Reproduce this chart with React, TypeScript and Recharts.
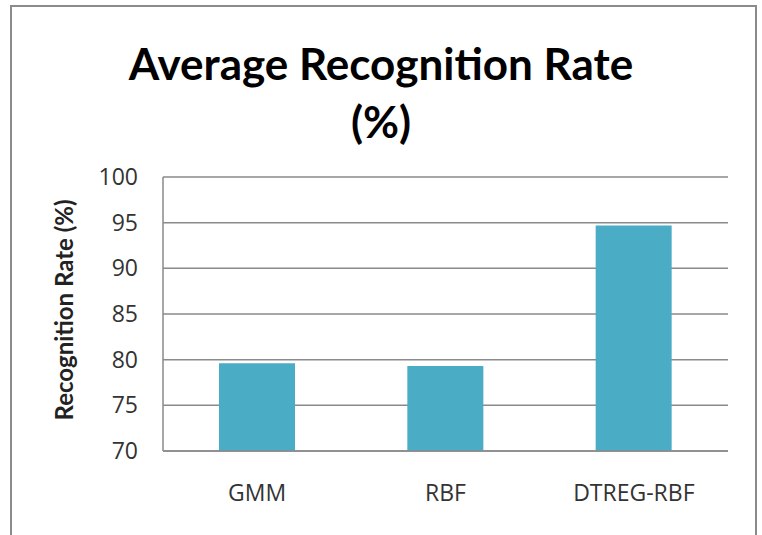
import { Bar, BarChart, CartesianGrid, XAxis, YAxis } from 'recharts';

const methods = ['GMM', 'RBF', 'DTREG-RBF'];
const rates = [79.6, 79.3, 94.7];
const yTicks = [70, 75, 80, 85, 90, 95, 100];

const data = methods.map((name, i) => ({ name, rate: rates[i] }));

const gridColor = '#8a8a8a';
const tickStyle = { fontSize: 23, fill: '#333', fontFamily: 'Open Sans' };

const App = () => {
  return (
    <div style={{ position: 'relative', width: 762, height: 535, overflow: 'hidden', fontFamily: 'Open Sans' }}>
      <style>{'body{margin:0}'}</style>
      <div
        style={{
          position: 'absolute',
          left: 10,
          top: 5,
          width: 747,
          height: 600,
          border: '2px solid #8b8b8b',
          boxSizing: 'border-box',
        }}
      />
      <div
        style={{
          position: 'absolute',
          left: 0,
          width: 762,
          top: 34,
          textAlign: 'center',
          fontFamily: 'Lato',
          fontWeight: 'bold',
          fontSize: 44,
          lineHeight: '58px',
          color: '#000',
        }}
      >
        Average Recognition Rate
        <br />
        (%)
      </div>
      <div
        style={{
          position: 'absolute',
          left: 63,
          top: 310,
          transform: 'translate(-50%, -50%) rotate(-90deg)',
          whiteSpace: 'nowrap',
          fontFamily: 'Lato',
          fontWeight: 'bold',
          fontSize: 24,
          color: '#222',
        }}
      >
        Recognition Rate (%)
      </div>
      <BarChart
        width={762}
        height={535}
        data={data}
        margin={{ top: 177, right: 34, bottom: 54, left: 103 }}
        style={{ position: 'absolute', left: 0, top: 0 }}
      >
        <CartesianGrid vertical={false} stroke={gridColor} strokeWidth={1.5} />
        <XAxis
          dataKey="name"
          height={30}
          tickLine={false}
          tickSize={0}
          tickMargin={34}
          axisLine={{ stroke: gridColor, strokeWidth: 1.5 }}
          tick={tickStyle}
        />
        <YAxis
          width={60}
          domain={[70, 100]}
          ticks={yTicks}
          tickLine={false}
          tickSize={0}
          tickMargin={25}
          axisLine={{ stroke: gridColor, strokeWidth: 1.5 }}
          tick={tickStyle}
        />
        <Bar dataKey="rate" fill="#4bacc6" barSize={76} isAnimationActive={false} />
      </BarChart>
    </div>
  );
};

export default App;
